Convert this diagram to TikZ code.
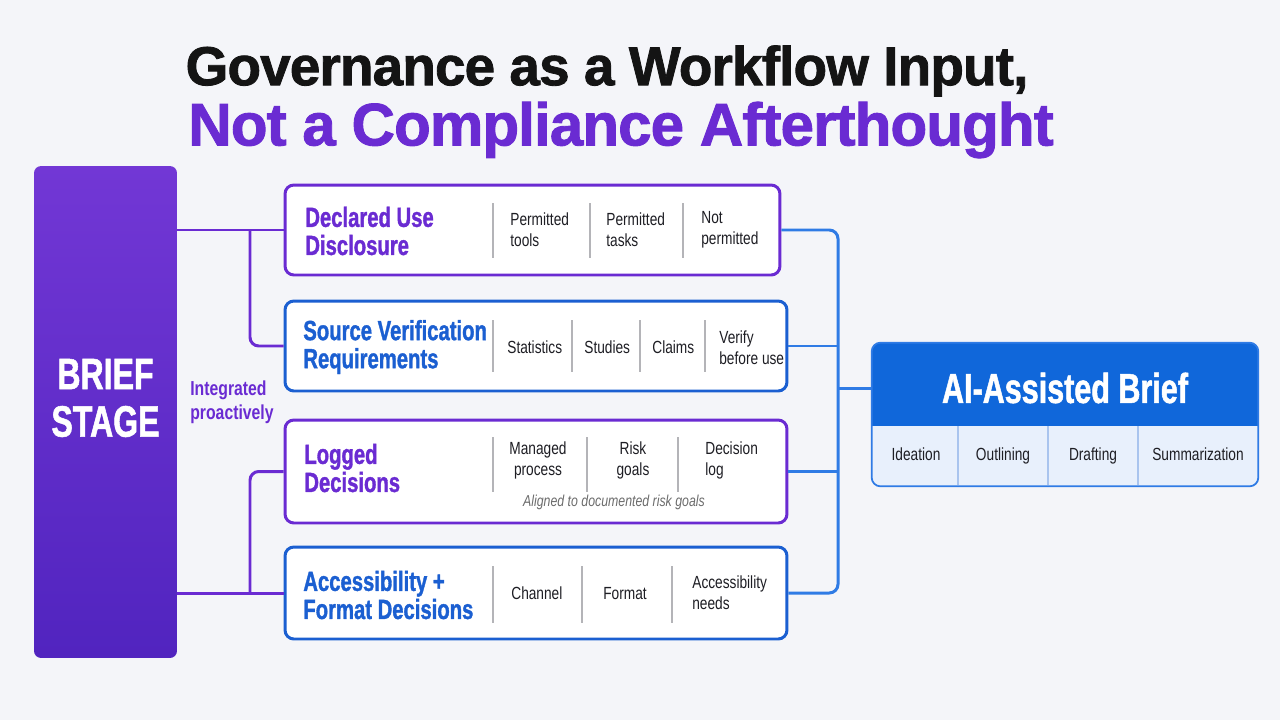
\documentclass[tikz,border=0pt]{standalone}
\usepackage{fontspec}
\setmainfont{Liberation Sans}
\newfontfamily\cnd[FakeStretch=0.78]{Liberation Sans}
\newfontfamily\heavy[FakeStretch=0.73,FakeBold=1.2]{Liberation Sans}
\newfontfamily\ttlfont[FakeBold=1.5,LetterSpace=-1.5]{Liberation Sans}
\usepackage{xcolor}

\definecolor{pviolet}{HTML}{6A2BD2}
\definecolor{pblue}{HTML}{1B5FD1}
\definecolor{lblue}{HTML}{2F7BE5}
\definecolor{briefTop}{HTML}{7237D5}
\definecolor{briefBot}{HTML}{5124BF}
\definecolor{aihead}{HTML}{1067DA}
\definecolor{aicell}{HTML}{E8F0FC}
\definecolor{cellsep}{HTML}{A9C4EE}
\definecolor{bg}{HTML}{F4F5F9}
\definecolor{sepgray}{HTML}{B4B4B8}
\definecolor{txtdark}{HTML}{1E1E24}

\begin{document}
\begin{tikzpicture}[x=0.02cm,y=-0.02cm,
  panel/.style={draw=#1,line width=1.7pt,rounded corners=5pt,fill=white,inner sep=0pt},
  head/.style={anchor=west,align=left,inner sep=0pt,font=\heavy\bfseries\fontsize{15.8}{16}\selectfont},
  item/.style={align=left,inner sep=0pt,text=txtdark,font=\cnd\fontsize{10}{12}\selectfont},
  sep/.style={draw=sepgray,line width=0.8pt},
  pconn/.style={draw=pviolet,line width=1.7pt,rounded corners=5pt},
  bconn/.style={draw=lblue,line width=1.7pt,rounded corners=5pt}]

\fill[bg] (0,0) rectangle (1280,720);
\useasboundingbox (0,0) rectangle (1280,720);

% title
\node[font=\ttlfont\bfseries\fontsize{31.2}{31}\selectfont,text=black!92] (title1) at (607,71) {Governance as a Workflow Input,};
\node[font=\ttlfont\bfseries\fontsize{34.2}{34}\selectfont,text=pviolet] (title2) at (621,130) {Not a Compliance Afterthought};

% brief stage
\node[rounded corners=4pt,top color=briefTop,bottom color=briefBot,minimum width=2.86cm,minimum height=9.84cm] (brief) at (105.5,412) {};
\node[text=white,align=center,font=\heavy\bfseries\fontsize{25}{27}\selectfont] (brieflbl) at (105.5,398) {BRIEF\\STAGE};
\node[text=pviolet,align=left,anchor=west,inner sep=0pt,font=\cnd\bfseries\fontsize{11.5}{13.5}\selectfont] (integ) at (190,402) {Integrated\\proactively};

% governance panels
\node[panel=pviolet,minimum width=9.9cm,minimum height=1.8cm] (decl) at (532.5,230) {};
\node[panel=pblue,minimum width=10.04cm,minimum height=1.8cm] (src) at (536,346) {};
\node[panel=pviolet,minimum width=10.04cm,minimum height=2.06cm] (logd) at (536,471.5) {};
\node[panel=pblue,minimum width=10.04cm,minimum height=1.84cm] (acc) at (536,593) {};

\node[head,text=pviolet] (declh) at (305,231) {Declared Use\\Disclosure};
\node[head,text=pblue] (srch) at (303,347) {Source Verification\\Requirements};
\node[head,text=pviolet] (logh) at (304,468) {Logged\\Decisions};
\node[head,text=pblue] (acch) at (303,595) {Accessibility +\\Format Decisions};

% separators
\foreach \xx in {493,590,683} \draw[sep] (\xx,203) -- (\xx,258);
\foreach \xx in {493,572,640,705} \draw[sep] (\xx,320) -- (\xx,372);
\foreach \xx in {493,587,678} \draw[sep] (\xx,437) -- (\xx,492);
\foreach \xx in {493,582,672} \draw[sep] (\xx,566) -- (\xx,623);

% panel items
\foreach \nm/\xx/\yy/\txt in {d1/510/230/{Permitted\\tools},d2/606/230/{Permitted\\tasks},d3/701/230/{Not\\permitted},
  s4/719/348/{Verify\\before use},a3/692/593/{Accessibility\\needs}}
  \node[item,anchor=west] (\nm) at (\xx,\yy) {\txt};
\foreach \nm/\xx/\yy/\txt in {s1/507/353/Statistics,s2/584/353/Studies,s3/652/353/Claims,
  a1/511/599/Channel,a2/603/599/Format}
  \node[item,anchor=base west] (\nm) at (\xx,\yy) {\txt};
\foreach \nm/\xx/\txt in {l1/538/{Managed\\process},l2/633/{Risk\\goals}}
  \node[item,align=center] (\nm) at (\xx,460) {\txt};
\node[item,anchor=west] (l3) at (705,460) {Decision\\log};
\node[item,text=gray!85!black,font=\cnd\itshape\fontsize{9}{10}\selectfont] (lnote) at (614,502) {Aligned to documented risk goals};

% left connectors
\coordinate (lbus) at (250,0);
\draw[pconn] (brief.east |- decl.west) -- (decl.west);
\draw[pconn] (lbus |- decl.west) -- (lbus |- src.west) -- (src.west);
\draw[pconn] (brief.east |- acc.west) -- (acc.west);
\draw[pconn] (lbus |- acc.west) -- (lbus |- logd.west) -- (logd.west);

% AI-assisted brief
\node[minimum width=7.72cm,minimum height=2.86cm,inner sep=0pt] (aib) at (1065,414.5) {};
\coordinate (hdbot) at (0,426);
\begin{scope}
\clip[rounded corners=5pt] (aib.north west) rectangle (aib.south east);
\fill[aicell] (aib.north west) rectangle (aib.south east);
\fill[aihead] (aib.north west) rectangle (aib.east |- hdbot);
\end{scope}
\draw[lblue,line width=1pt,rounded corners=5pt] (aib.north west) rectangle (aib.south east);
\foreach \xx in {958,1048,1138} \draw[cellsep,line width=0.8pt] (\xx,426) -- (\xx,485);
\node[text=white,font=\heavy\bfseries\fontsize{23.8}{24}\selectfont] (aititle) at (1065,388) {AI-Assisted Brief};
\foreach \nm/\xx/\txt in {c1/916/Ideation,c2/1003/Outlining,c3/1093/Drafting,c4/1198/Summarization}
  \node[item,anchor=base] (\nm) at (\xx,460) {\txt};

% right connectors
\coordinate (rbus) at (838,0);
\draw[bconn] (decl.east) -- (rbus |- decl.east) -- (rbus |- acc.east) -- (acc.east);
\draw[bconn] (src.east) -- (rbus |- src.east);
\draw[bconn] (logd.east) -- (rbus |- logd.east);
\draw[bconn] (rbus |- aititle) -- (aib.west |- aititle);
\end{tikzpicture}
\end{document}
